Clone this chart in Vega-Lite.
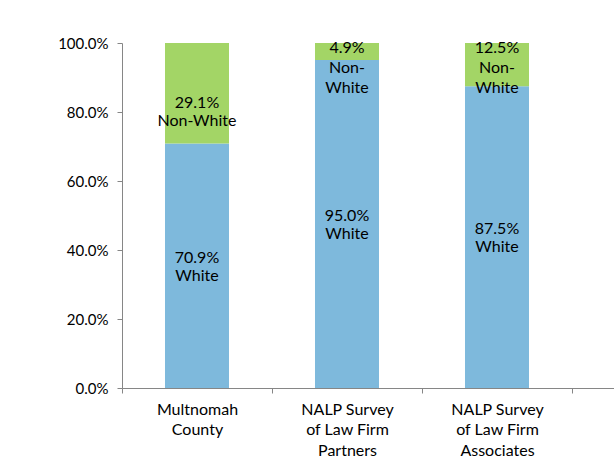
{
  "$schema": "https://vega.github.io/schema/vega-lite/v6.json",
  "autosize": {"type": "none"},
  "width": 492,
  "height": 345,
  "padding": {"left": 122, "top": 43, "right": 0, "bottom": 83},
  "background": "white",
  "config": {"view": {"stroke": null}, "font": "Lato"},
  "data": {
    "values": [
      {"cat": "Multnomah|County", "group": "White", "value": 0.709, "label": ["70.9%", "White"]},
      {"cat": "Multnomah|County", "group": "Non-White", "value": 0.291, "label": ["29.1%", "Non-White"]},
      {"cat": "NALP Survey|of Law Firm|Partners", "group": "White", "value": 0.951, "label": ["95.0%", "White"]},
      {"cat": "NALP Survey|of Law Firm|Partners", "group": "Non-White", "value": 0.049, "label": ["4.9%", "Non-", "White"]},
      {"cat": "NALP Survey|of Law Firm|Associates", "group": "White", "value": 0.875, "label": ["87.5%", "White"]},
      {"cat": "NALP Survey|of Law Firm|Associates", "group": "Non-White", "value": 0.125, "label": ["12.5%", "Non-", "White"]}
    ]
  },
  "encoding": {
    "x": {
      "field": "cat",
      "type": "nominal",
      "sort": null,
      "title": null,
      "scale": {"paddingInner": 0, "paddingOuter": 0.14, "align": 0},
      "axis": {
        "labelAngle": 0,
        "labelExpr": "isString(datum.value) ? split(datum.value, '|') : ''",
        "labelFont": "Lato",
        "labelFontSize": 16,
        "labelColor": "#000000",
        "labelLineHeight": 20.5,
        "labelPadding": 8,
        "tickBand": "extent",
        "domainColor": "#868686",
        "tickColor": "#868686",
        "tickSize": 5,
        "ticks": true
      }
    }
  },
  "layer": [
    {
      "mark": {"type": "bar", "width": {"band": 0.4267}},
      "encoding": {
        "y": {
          "field": "value",
          "type": "quantitative",
          "stack": "zero",
          "title": null,
          "scale": {"domain": [0, 1], "nice": false},
          "axis": {
            "format": ".1%",
            "values": [0, 0.2, 0.4, 0.6, 0.8, 1],
            "grid": false,
            "labelFont": "Lato",
            "labelFontSize": 15,
            "labelColor": "#000000",
            "labelPadding": 9,
            "domainColor": "#868686",
            "tickColor": "#868686",
            "tickSize": 5
          }
        },
        "color": {
          "field": "group",
          "type": "nominal",
          "scale": {"domain": ["White", "Non-White"], "range": ["#7EB9DC", "#A3D566"]},
          "legend": null
        },
        "order": {"field": "group", "sort": "descending"}
      }
    },
    {
      "transform": [{"filter": "datum.group === 'White'"}],
      "mark": {"type": "text", "fontSize": 16, "lineHeight": 18, "baseline": "middle", "dy": -8, "color": "#000000", "font": "Lato"},
      "encoding": {
        "y": {"field": "value", "type": "quantitative", "stack": "zero", "bandPosition": 0.5},
        "text": {"field": "label"}
      }
    },
    {
      "transform": [{"filter": "datum.group === 'Non-White' && datum.cat === 'Multnomah|County'"}],
      "mark": {"type": "text", "fontSize": 16, "lineHeight": 18, "baseline": "top", "dy": 52, "color": "#000000", "font": "Lato"},
      "encoding": {
        "y": {"datum": 1, "type": "quantitative"},
        "text": {"field": "label"}
      }
    },
    {
      "transform": [{"filter": "datum.group === 'Non-White' && datum.cat !== 'Multnomah|County'"}],
      "mark": {"type": "text", "fontSize": 16, "lineHeight": 20, "baseline": "top", "dy": -3, "color": "#000000", "font": "Lato"},
      "encoding": {
        "y": {"datum": 1, "type": "quantitative"},
        "text": {"field": "label"}
      }
    }
  ]
}
